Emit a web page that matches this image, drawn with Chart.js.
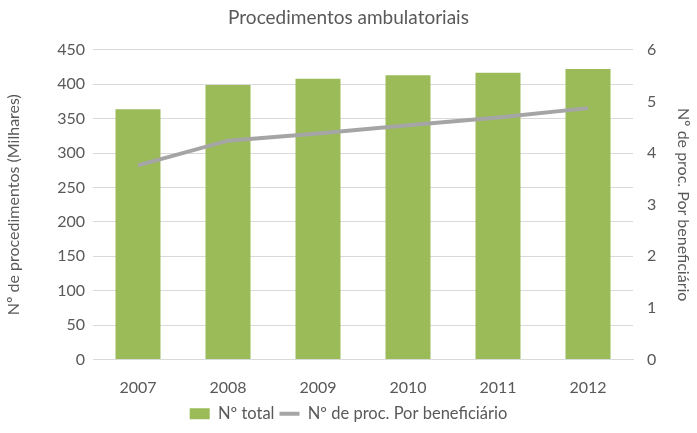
<!DOCTYPE html>
<html>
<head>
<meta charset="utf-8">
<script src="https://cdn.jsdelivr.net/npm/chart.js@4"></script>
<style>
  html, body { margin: 0; padding: 0; background: #fff; }
  .wrap { width: 697px; height: 433px; position: relative; }
</style>
</head>
<body>
<div class="wrap"><canvas id="c"></canvas></div>
<script>
const years = ['2007', '2008', '2009', '2010', '2011', '2012'];
const totalProc = [363.5, 399, 408, 413, 416.5, 422];
const procPerBenef = [3.76, 4.24, 4.38, 4.54, 4.69, 4.87];

const GREY = '#595959';
const FONT = 'Lato, "Open Sans", sans-serif';

const chart = new Chart(document.getElementById('c'), {
  data: {
    labels: years,
    datasets: [
      {
        type: 'bar',
        label: 'Nº total',
        data: totalProc,
        backgroundColor: '#9BBB59',
        yAxisID: 'y',
        categoryPercentage: 1,
        barPercentage: 0.5,
        order: 2,
      },
      {
        type: 'line',
        label: 'Nº de proc. Por beneficiário',
        data: procPerBenef,
        borderColor: '#A5A5A5',
        backgroundColor: '#A5A5A5',
        borderWidth: 4,
        pointRadius: 0,
        tension: 0,
        yAxisID: 'y1',
        order: 1,
      }
    ]
  },
  options: {
    responsive: true,
    maintainAspectRatio: false,
    animation: false,
    layout: { padding: { left: 0, right: 0, top: 0, bottom: 1 } },
    plugins: {
      title: {
        display: true,
        text: 'Procedimentos ambulatoriais',
        color: GREY,
        font: { family: FONT, size: 19, weight: 'normal' },
        padding: { top: 6, bottom: 21 },
      },
      legend: {
        position: 'bottom',
        labels: {
          color: GREY,
          font: { family: FONT, size: 16.5 },
          usePointStyle: true,
          pointStyleWidth: 20,
          boxHeight: 11,
          padding: 5,
          generateLabels(ch) {
            return ch.data.datasets.map((ds, i) => ({
              text: ds.label,
              fillStyle: ds.backgroundColor,
              strokeStyle: ds.type === 'line' ? ds.borderColor : ds.backgroundColor,
              lineWidth: ds.type === 'line' ? 4 : 0,
              pointStyle: ds.type === 'line' ? 'line' : 'rect',
              fontColor: GREY,
              datasetIndex: i,
              hidden: false,
            }));
          }
        }
      },
      tooltip: { enabled: false }
    },
    scales: {
      x: {
        grid: { display: false },
        border: { color: '#D9D9D9' },
        ticks: { color: GREY, font: { family: FONT, size: 16 }, padding: 11 },
        afterFit(axis) { axis.height = 41; }
      },
      y: {
        position: 'left',
        min: 0,
        max: 450,
        ticks: { stepSize: 50, color: GREY, font: { family: FONT, size: 16 }, padding: 8 },
        grid: { color: '#D9D9D9', drawTicks: false },
        border: { display: false },
        title: {
          display: true,
          text: 'Nº de procedimentos (Milhares)',
          color: GREY,
          font: { family: FONT, size: 16 },
        },
        afterFit(axis) { axis.width = 93; }
      },
      y1: {
        position: 'right',
        min: 0,
        max: 6,
        ticks: { stepSize: 1, color: GREY, font: { family: FONT, size: 16 }, padding: 14 },
        grid: { display: false, drawTicks: false },
        border: { display: false },
        title: {
          display: true,
          text: 'Nº de proc. Por beneficiário',
          color: GREY,
          font: { family: FONT, size: 16 },
        },
        afterFit(axis) { axis.width = 64; }
      }
    }
  }
});
</script>
</body>
</html>
